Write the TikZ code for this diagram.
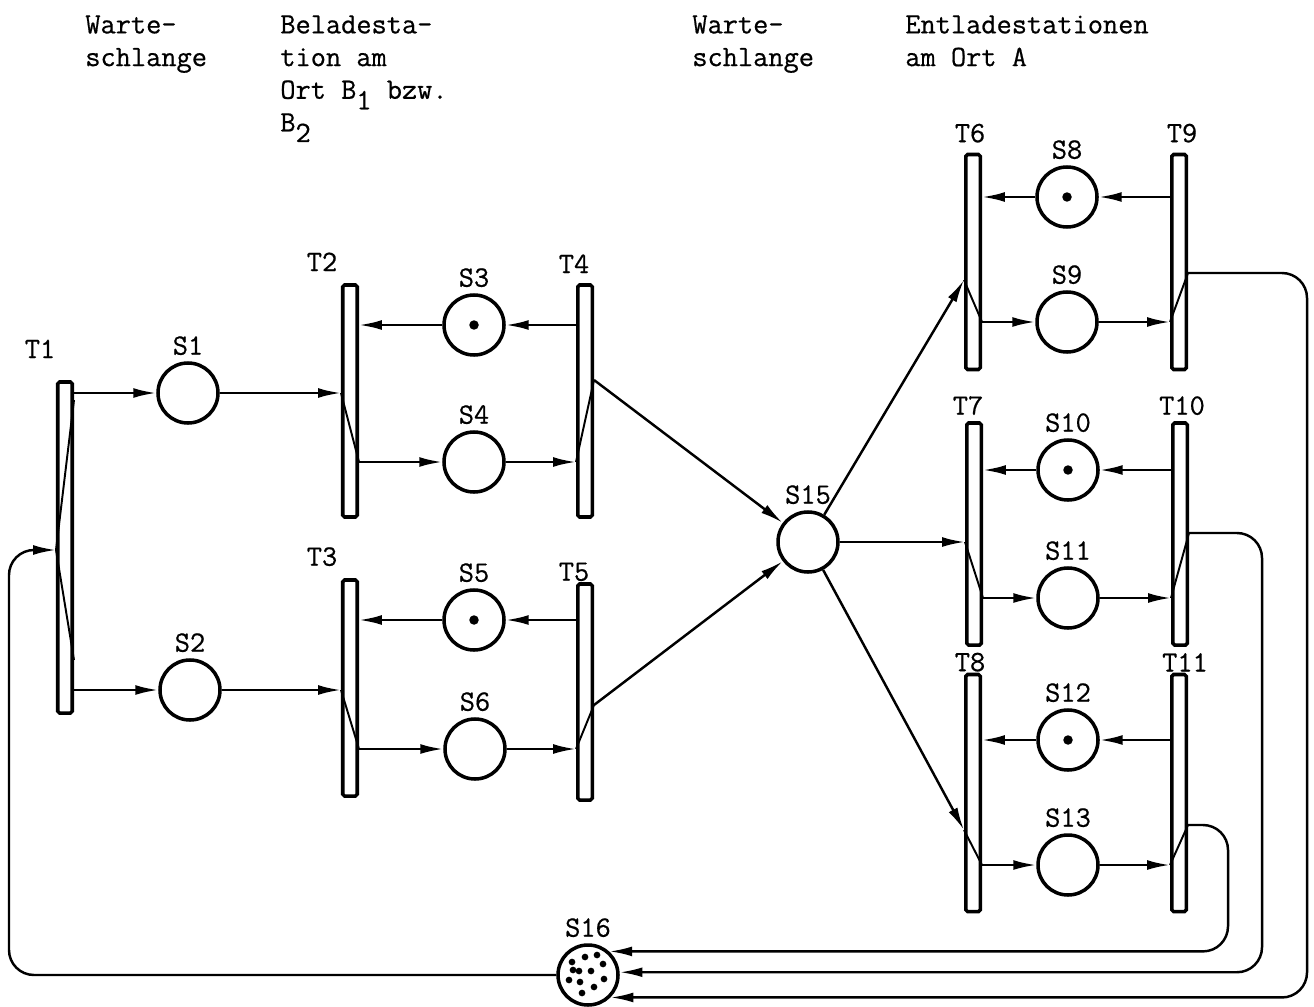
\documentclass[tikz,border=0pt]{standalone}
\usepackage{fontspec}
\setmonofont{Latin Modern Mono}[FakeBold=0.6]
\usetikzlibrary{arrows.meta,calc}
\begin{document}
\begin{tikzpicture}[x=0.2mm, y=-0.2mm,
  every node/.style={font=\ttfamily\fontsize{16.8}{18.6}\selectfont},
  tbar/.style={draw, line width=2pt, rounded corners=1pt, minimum width=2.9mm, inner sep=0},
  splace/.style={circle, draw, line width=2pt, minimum size=12mm, inner sep=0},
  flow/.style={line width=1.4pt, -{Latex[length=13pt,width=5.6pt]}},
  inner/.style={line width=1.1pt},
  head/.style={anchor=north west, inner sep=0, align=left}]
\useasboundingbox (0,0) rectangle (1314,1006);
\fill[white] (0,0) rectangle (1314,1006);
\node[head] (q1) at (85,15) {Warte-\\schlange};
\node[head] (bel) at (280,15) {Beladesta-\\tion am\\Ort B\lower6pt\hbox{1} bzw.\\B\lower6pt\hbox{2}};
\node[head] (q2) at (692,15) {Warte-\\schlange};
\node[head] (ent) at (905,15) {Entladestationen\\am Ort A};
\node[tbar, minimum height=66.2mm, label={[xshift=-5mm,yshift=3.2mm]above:T1}] (T1) at (65,547.5) {};
\node[tbar, minimum height=46.4mm, label={[xshift=-5.6mm,yshift=1.2mm]above:T2}] (T2) at (350,401) {};
\node[tbar, minimum height=43.2mm, label={[xshift=-5.6mm,yshift=1.2mm]above:T3}] (T3) at (350,688) {};
\node[tbar, minimum height=46.4mm, label={[xshift=-2.2mm,yshift=0.8mm]above:T4}] (T4) at (585,401) {};
\node[tbar, minimum height=43.2mm, label={[xshift=-2.2mm,yshift=-1mm]above:T5}] (T5) at (585,692) {};
\node[tbar, minimum height=43mm, label={[xshift=-0.6mm,yshift=0.8mm]above:T6}] (T6) at (973,262) {};
\node[tbar, minimum height=43mm, label={[xshift=0.6mm,yshift=0.8mm]above:T9}] (T9) at (1179,262) {};
\node[tbar, minimum height=44.4mm, label={[xshift=-1.2mm]above:T7}] (T7) at (974,534) {};
\node[tbar, minimum height=44.4mm, label={[xshift=0.4mm]above:T10}] (T10) at (1180,534) {};
\node[tbar, minimum height=47.4mm, label={[xshift=-0.6mm,yshift=-1mm]above:T8}] (T8) at (973,793) {};
\node[tbar, minimum height=47.4mm, label={[xshift=1.2mm,yshift=-1mm]above:T11}] (T11) at (1179,793) {};
\node[splace, label=above:S1] (S1) at (188,393) {};
\node[splace, label=above:S2] (S2) at (190,690) {};
\node[splace, label=above:S3] (S3) at (474,325) {};
\node[splace, label=above:S4] (S4) at (474,462) {};
\node[splace, label=above:S5] (S5) at (474,620) {};
\node[splace, label=above:S6] (S6) at (475,749) {};
\node[splace, label=above:S15] (S15) at (808,542) {};
\node[splace, label=above:S8] (S8) at (1067,197) {};
\node[splace, label=above:S9] (S9) at (1067,322) {};
\node[splace, label=above:S10] (S10) at (1068,470) {};
\node[splace, label=above:S11] (S11) at (1068,598) {};
\node[splace, label=above:S12] (S12) at (1068,740) {};
\node[splace, label=above:S13] (S13) at (1068,865) {};
\node[splace, label=above:S16] (S16) at (588,975) {};
\foreach \s in {S3,S5,S8,S10,S12} \fill (\s) circle (2.7pt);
\foreach \dx/\dy in {-16/-13,-3/-18,9/-20,15/-11,-15/-5,-9/-4,3/-4,-19/5,-8/7,16/4,6/12,-6/18}
  \fill ($(S16)+(\dx,\dy)$) circle (1.9pt);
\draw[flow] (T1.east |- S1) -- (S1);
\draw[flow] (T1.east |- S2) -- (S2);
\draw[flow] (S1) -- (T2.west |- S1);
\draw[flow] (S2) -- (T3.west |- S2);
\draw[flow] (T2.east |- S4) -- (S4);
\draw[flow] (S4) -- (T4.west |- S4);
\draw[flow] (T4.west |- S3) -- (S3);
\draw[flow] (S3) -- (T2.east |- S3);
\draw[flow] (T3.east |- S6) -- (S6);
\draw[flow] (S6) -- (T5.west |- S6);
\draw[flow] (T5.west |- S5) -- (S5);
\draw[flow] (S5) -- (T3.east |- S5);
\draw[flow] (T4.east |- 0,380) -- (S15);
\draw[flow] (T5.east |- 0,705) -- (S15);
\draw[flow] (S15) -- (T6.west |- 0,280);
\draw[flow] (S15) -- (T7.west |- S15);
\draw[flow] (S15) -- (T8.west |- 0,830);
\draw[flow] (T9.west |- S8) -- (S8);
\draw[flow] (S8) -- (T6.east |- S8);
\draw[flow] (T6.east |- S9) -- (S9);
\draw[flow] (S9) -- (T9.west |- S9);
\draw[flow] (T10.west |- S10) -- (S10);
\draw[flow] (S10) -- (T7.east |- S10);
\draw[flow] (T7.east |- S11) -- (S11);
\draw[flow] (S11) -- (T10.west |- S11);
\draw[flow] (T11.west |- S12) -- (S12);
\draw[flow] (S12) -- (T8.east |- S12);
\draw[flow] (T8.east |- S13) -- (S13);
\draw[flow] (S13) -- (T11.west |- S13);
\draw[flow, rounded corners=5mm] (T9.east |- 0,273) -- (1307,273) |- (S16.-45);
\draw[flow, rounded corners=5mm] (T10.east |- 0,533) -- (1262,533) |- (S16.5);
\draw[flow, rounded corners=5mm] (T11.east |- 0,825) -- (1228,825) |- (S16.48);
\draw[flow, rounded corners=5mm] (S16.west) -| (9,550) -- (T1.west |- 0,550);
\draw[inner] (T1.west |- 0,550) -- (T1.east |- 0,400);
\draw[inner] (T1.west |- 0,550) -- (T1.east |- 0,660);
\draw[inner] (T2.west |- S1) -- (T2.east |- S4);
\draw[inner] (T3.west |- S2) -- (T3.east |- S6);
\draw[inner] (T4.west |- S4) -- (T4.east |- 0,380);
\draw[inner] (T5.west |- S6) -- (T5.east |- 0,705);
\draw[inner] (T6.west |- 0,280) -- (T6.east |- S9);
\draw[inner] (T9.west |- S9) -- (T9.east |- 0,273);
\draw[inner] (T7.west |- S15) -- (T7.east |- S11);
\draw[inner] (T10.west |- S11) -- (T10.east |- 0,533);
\draw[inner] (T8.west |- 0,830) -- (T8.east |- S13);
\draw[inner] (T11.west |- S13) -- (T11.east |- 0,825);
\end{tikzpicture}
\end{document}
